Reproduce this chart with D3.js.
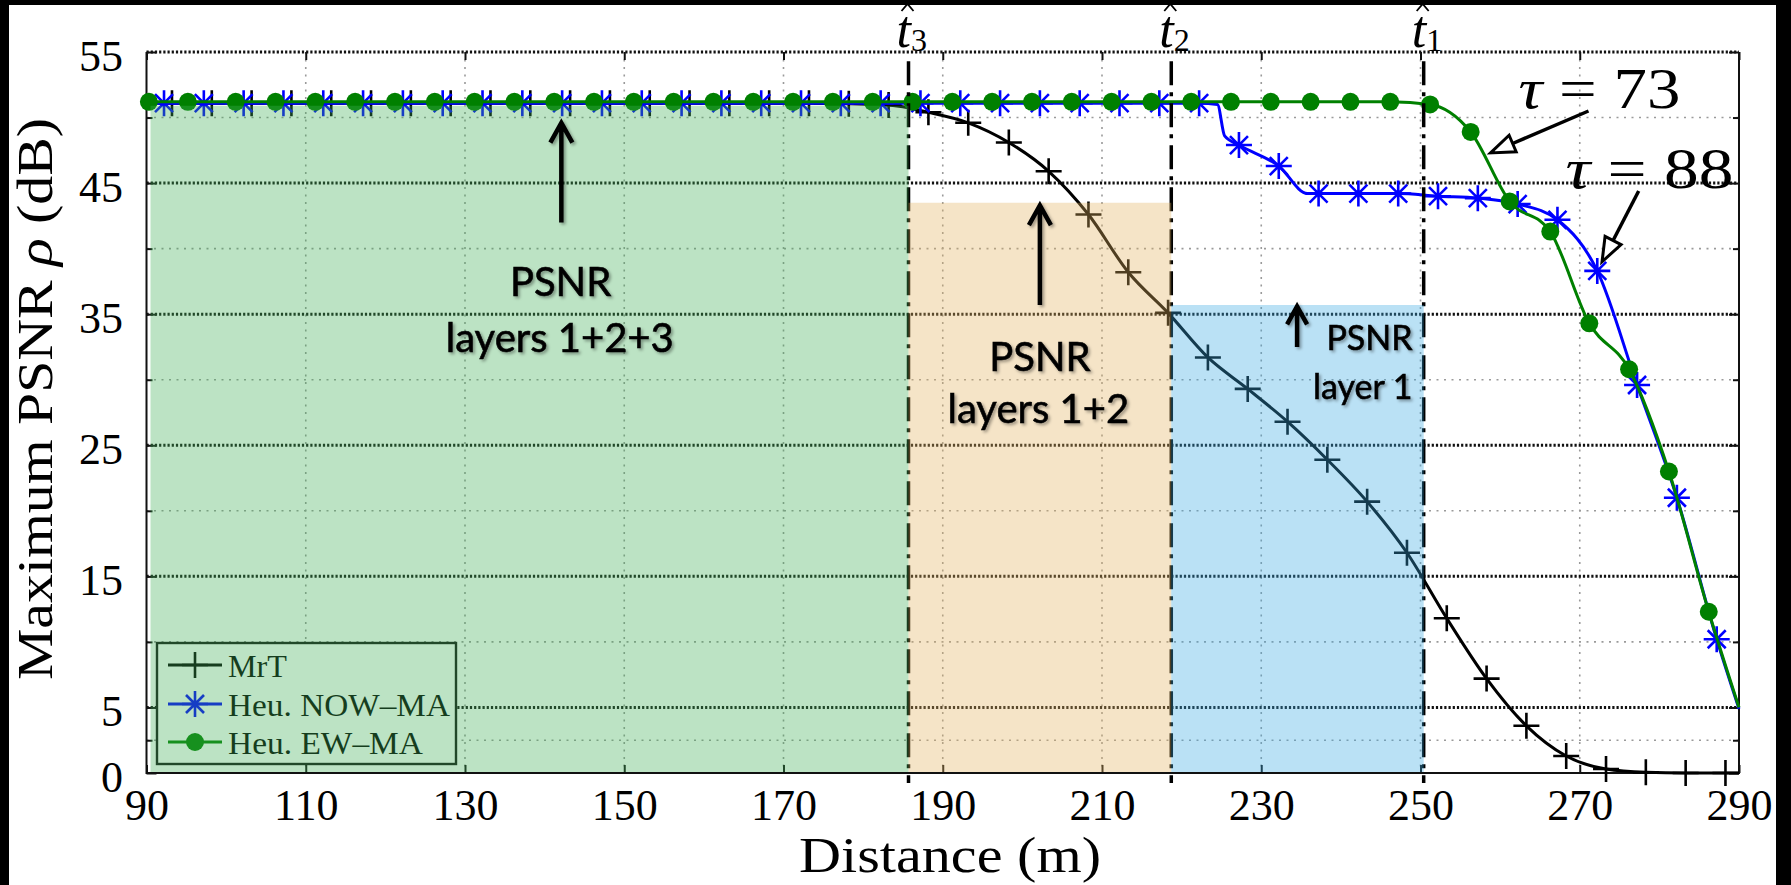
<!DOCTYPE html>
<html>
<head>
<meta charset="utf-8">
<script src="https://cdn.jsdelivr.net/npm/d3@7"></script>
<style>
  body { margin: 0; background: #fff; }
  svg { display: block; }
  .tick text { font-family: 'Liberation Serif', serif; font-size: 44px; fill: #000; }
  .serif { font-family: 'Liberation Serif', serif; fill: #000; }
  .callout { font-family: Lato, 'Open Sans', sans-serif; fill: #000; stroke: #000; stroke-width: 0.6; }
</style>
</head>
<body>
<svg id="chart"></svg>
<script>
// axis ticks and grid rows
const xTicks = [90, 110, 130, 150, 170, 190, 210, 230, 250, 270, 290];
const yTicks = [0, 5, 15, 25, 35, 45, 55];
const yDarkGrid = [5, 15, 25, 35, 45, 55];
const yLightGrid = [2.5, 10, 20, 30, 40, 50];

// layer thresholds t3, t2, t1 and the shaded PSNR boxes
const layerNames = ['3', '2', '1'];
const layerDist = [185.7, 218.7, 250.4];
const boxFrom = [90, 185.7, 218.7];
const boxTo = [185.7, 218.7, 250.4];
const boxPsnr = [50.9, 43.5, 35.7];

const seriesNames = ['MrT', 'Heu. NOW\u2013MA', 'Heu. EW\u2013MA'];

// MrT (markers + line ends)
const mrtDist = [93.2, 98.2, 103.2, 108.2, 113.2, 118.2, 123.2, 128.2, 133.2, 138.2,
  143.2, 148.2, 153.2, 158.2, 163.2, 168.2, 173.2, 178.2, 183.2, 188.2,
  193.2, 198.3, 203.3, 208.3, 213.3, 218.3, 223.3, 228.3, 233.3, 238.3,
  243.3, 248.3, 253.3, 258.3, 263.3, 268.3, 273.3, 278.3, 283.3, 288.3];
const mrtPsnr = [51.1, 51.1, 51.1, 51.1, 51.1, 51.1, 51.1, 51.1, 51.1, 51.1,
  51.1, 51.1, 51.1, 51.1, 51.1, 51.1, 51.1, 51.05, 50.95, 50.4,
  49.6, 48.1, 45.9, 42.6, 38.2, 35.1, 31.7, 29.3, 26.8, 23.9,
  20.7, 16.8, 11.8, 7.2, 3.6, 1.3, 0.3, 0.05, 0, 0];
const mrtBendDist = [90, 290];
const mrtBendPsnr = [51.1, 0];

// Heu. NOW-MA
const nowDist = [92.2, 97.2, 102.2, 107.2, 112.2, 117.2, 122.2, 127.2, 132.2, 137.2,
  142.2, 147.2, 152.2, 157.2, 162.2, 167.2, 172.2, 177.2, 182.2, 187.2,
  192.2, 197.2, 202.2, 207.2, 212.2, 217.2, 222.2, 227.2, 232.2, 237.2,
  242.2, 247.2, 252.2, 257.2, 262.2, 267.2, 272.2, 277.2, 282.2, 287.2];
const nowPsnr = [51.1, 51.1, 51.1, 51.1, 51.1, 51.1, 51.1, 51.1, 51.1, 51.1,
  51.1, 51.1, 51.1, 51.1, 51.1, 51.1, 51.1, 51.1, 51.1, 51.1,
  51.1, 51.1, 51.1, 51.1, 51.1, 51.1, 51.1, 47.9, 46.3, 44.2,
  44.2, 44.2, 44.0, 43.85, 43.4, 42.2, 38.3, 29.6, 21.0, 10.2];
const nowBendDist = [90, 224.5, 225.4, 235.8, 290];
const nowBendPsnr = [51.1, 51.0, 48.6, 44.2, 4.9];

// Heu. EW-MA
const ewDist = [90.3, 95.2, 101.2, 106.2, 111.2, 116.2, 121.2, 126.2, 131.2, 136.2,
  141.2, 146.2, 151.2, 156.2, 161.2, 166.2, 171.2, 176.2, 181.2, 186.2,
  191.2, 196.2, 201.2, 206.2, 211.2, 216.2, 221.2, 226.2, 231.2, 236.2,
  241.2, 246.2, 251.2, 256.3, 261.2, 266.3, 271.2, 276.2, 281.2, 286.2];
const ewPsnr = [51.2, 51.2, 51.2, 51.2, 51.2, 51.2, 51.2, 51.2, 51.2, 51.2,
  51.2, 51.2, 51.2, 51.2, 51.2, 51.2, 51.2, 51.2, 51.2, 51.2,
  51.2, 51.2, 51.2, 51.2, 51.2, 51.2, 51.2, 51.2, 51.2, 51.2,
  51.2, 51.2, 51.0, 48.9, 43.6, 41.3, 34.3, 30.8, 23.0, 12.3];
const ewBendDist = [90, 290];
const ewBendPsnr = [51.2, 5.0];

class PsnrChart {

    constructor(_config, _data) {
        this.config = {
            parentElement: _config.parentElement,
            containerWidth: _config.containerWidth || 1791,
            containerHeight: _config.containerHeight || 885,
            margin: { top: 52, bottom: 112, right: 52, left: 146.5 }
        };
        this.data = _data;
        this.initVis();
    }

    initVis() {
        let vis = this;
        const m = vis.config.margin;

        vis.width = vis.config.containerWidth - m.left - m.right;
        vis.height = vis.config.containerHeight - m.top - m.bottom;

        vis.svg = d3.select(vis.config.parentElement)
            .attr('width', vis.config.containerWidth)
            .attr('height', vis.config.containerHeight);

        vis.svg.append('rect')
            .attr('width', vis.config.containerWidth)
            .attr('height', vis.config.containerHeight)
            .attr('fill', '#fff');

        const defs = vis.svg.append('defs');
        defs.append('filter').attr('id', 'shadow')
            .attr('x', '-10%').attr('y', '-20%').attr('width', '130%').attr('height', '150%')
            .append('feDropShadow')
                .attr('dx', 2).attr('dy', 2).attr('stdDeviation', 1.6)
                .attr('flood-color', '#000').attr('flood-opacity', 0.35);

        vis.chart = vis.svg.append('g')
            .attr('transform', `translate(${m.left}, ${m.top})`);

        vis.xScale = d3.scaleLinear().domain([90, 290]).range([0, vis.width]);
        vis.yScale = d3.scaleLinear().domain([0, 55]).range([vis.height, 0]);

        // grid
        vis.chart.append('g').selectAll('line')
            .data(xTicks.slice(1, -1))
            .join('line')
                .attr('x1', d => vis.xScale(d)).attr('x2', d => vis.xScale(d))
                .attr('y1', 0).attr('y2', vis.height)
                .attr('stroke', '#9a9a9a').attr('stroke-width', 1.6)
                .attr('stroke-dasharray', '2,5.5');

        vis.chart.append('g').selectAll('line')
            .data(yLightGrid)
            .join('line')
                .attr('x1', 0).attr('x2', vis.width)
                .attr('y1', d => vis.yScale(d)).attr('y2', d => vis.yScale(d))
                .attr('stroke', '#9a9a9a').attr('stroke-width', 1.6)
                .attr('stroke-dasharray', '2,5.5');

        vis.chart.append('g').selectAll('line')
            .data(yDarkGrid)
            .join('line')
                .attr('x1', 0).attr('x2', vis.width)
                .attr('y1', d => vis.yScale(d)).attr('y2', d => vis.yScale(d))
                .attr('stroke', '#111').attr('stroke-width', 3)
                .attr('stroke-dasharray', '2.2,2');

        // frame (top edge is the dotted 55 line)
        vis.chart.append('path')
            .attr('d', `M0,0V${vis.height}H${vis.width}V0`)
            .attr('fill', 'none').attr('stroke', '#111').attr('stroke-width', 2);

        // axes
        vis.xAxis = d3.axisBottom(vis.xScale).tickValues(xTicks)
            .tickSizeInner(-8).tickSizeOuter(0).tickPadding(16);
        vis.yAxis = d3.axisLeft(vis.yScale).tickValues(yTicks)
            .tickSizeInner(-10).tickSizeOuter(0).tickPadding(23.5);

        vis.xAxisGroup = vis.chart.append('g')
            .attr('transform', `translate(0,${vis.height})`)
            .call(vis.xAxis);
        vis.yAxisGroup = vis.chart.append('g').call(vis.yAxis);

        vis.chart.append('g')
            .call(d3.axisTop(vis.xScale).tickValues(xTicks).tickSizeInner(-8).tickSizeOuter(0).tickFormat(''));
        vis.chart.append('g')
            .attr('transform', `translate(${vis.width},0)`)
            .call(d3.axisRight(vis.yScale).tickValues(yTicks).tickSizeInner(-10).tickSizeOuter(0).tickFormat(''));
        vis.chart.append('g')
            .call(d3.axisLeft(vis.yScale).tickValues(yLightGrid).tickSizeInner(-6).tickSizeOuter(0).tickFormat(''));
        vis.chart.append('g')
            .attr('transform', `translate(${vis.width},0)`)
            .call(d3.axisRight(vis.yScale).tickValues(yLightGrid).tickSizeInner(-6).tickSizeOuter(0).tickFormat(''));

        vis.chart.selectAll('.domain').remove();
        vis.chart.selectAll('.tick line').attr('stroke', '#111').attr('stroke-width', 2);
        vis.yAxisGroup.selectAll('text').attr('dy', '0.42em');

        // axis titles
        vis.svg.append('text')
            .attr('class', 'serif')
            .attr('x', 950).attr('y', 872)
            .attr('text-anchor', 'middle')
            .attr('font-size', 50)
            .attr('textLength', 302).attr('lengthAdjust', 'spacingAndGlyphs')
            .text('Distance (m)');

        const yTitle = vis.svg.append('text')
            .attr('class', 'serif')
            .attr('text-anchor', 'middle')
            .attr('font-size', 50)
            .attr('transform', 'translate(52, 399) rotate(-90)')
            .attr('textLength', 562).attr('lengthAdjust', 'spacingAndGlyphs');
        yTitle.append('tspan').text('Maximum PSNR ');
        yTitle.append('tspan').attr('font-style', 'italic').text('\u03c1');
        yTitle.append('tspan').text(' (dB)');
    }

    renderVis() {
        let vis = this;
        const x = vis.xScale, y = vis.yScale;

        const line = d3.line()
            .x(d => x(d[0]))
            .y(d => y(d[1]))
            .curve(d3.curveMonotoneX);

        const markerPath = {
            plus: 'M-13,0H13M0,-13V13',
            star: 'M-13,0H13M0,-13V13M-9,-9L9,9M-9,9L9,-9'
        };

        const drawMarker = (sel, s) => {
            if (s.marker === 'dot') {
                sel.append('circle').attr('r', 9).attr('fill', s.color);
            } else {
                sel.append('path').attr('d', markerPath[s.marker])
                    .attr('fill', 'none').attr('stroke', s.color).attr('stroke-width', 2.6);
            }
        };

        vis.data.forEach(s => {
            const pts = d3.sort(
                s.dist.map((d, i) => [d, s.psnr[i]])
                    .concat(s.bendDist.map((d, i) => [d, s.bendPsnr[i]])),
                d => d[0]);

            vis.chart.append('path')
                .attr('d', line(pts))
                .attr('fill', 'none')
                .attr('stroke', s.color)
                .attr('stroke-width', 3);

            vis.chart.append('g').selectAll('g')
                .data(s.dist.map((d, i) => [d, s.psnr[i]]))
                .join('g')
                    .attr('transform', d => `translate(${x(d[0])},${y(d[1])})`)
                    .each(function() { drawMarker(d3.select(this), s); });
        });

        // legend
        const legend = vis.chart.append('g')
            .attr('transform', `translate(10.5, ${vis.height - 130})`);
        legend.append('rect')
            .attr('width', 299).attr('height', 121)
            .attr('fill', '#fff').attr('stroke', '#111').attr('stroke-width', 2.4);
        const rowY = [22, 61, 99];
        const labelLen = [59, 222, 195];
        vis.data.forEach((s, i) => {
            const row = legend.append('g').attr('transform', `translate(0,${rowY[i]})`);
            row.append('line').attr('x1', 11).attr('x2', 65)
                .attr('stroke', s.color).attr('stroke-width', 3);
            drawMarker(row.append('g').attr('transform', 'translate(38,0)'), s);
            row.append('text')
                .attr('class', 'serif')
                .attr('x', 71).attr('y', 12)
                .attr('font-size', 32)
                .attr('textLength', labelLen[i]).attr('lengthAdjust', 'spacingAndGlyphs')
                .text(seriesNames[i]);
        });

        // dash-dot threshold lines
        vis.chart.append('g').selectAll('line')
            .data(layerDist)
            .join('line')
                .attr('x1', d => x(d)).attr('x2', d => x(d))
                .attr('y1', y(54.3)).attr('y2', vis.height + 10)
                .attr('stroke', '#000').attr('stroke-width', 3.5)
                .attr('stroke-dasharray', '24,7,4,7');

        // translucent boxes laid over the plot
        const boxColors = ['#40af56', '#e2b25f', '#3aa9e2'];
        vis.chart.append('g').selectAll('rect')
            .data(boxTo)
            .join('rect')
                .attr('x', (d, i) => x(boxFrom[i]) + (i === 0 ? 4 : 0))
                .attr('width', (d, i) => x(d) - x(boxFrom[i]) - (i === 0 ? 4 : 0))
                .attr('y', (d, i) => y(boxPsnr[i]))
                .attr('height', (d, i) => y(0) - 1 - y(boxPsnr[i]))
                .attr('fill', (d, i) => boxColors[i])
                .attr('fill-opacity', 0.35);

        // threshold labels t-hat
        layerDist.forEach((d, i) => {
            const cx = x(d);
            const base = -5;
            const t = vis.chart.append('text')
                .attr('class', 'serif')
                .attr('x', cx - 12).attr('y', base)
                .attr('font-size', 52);
            t.append('tspan').attr('font-style', 'italic').text('t');
            t.append('tspan').attr('font-size', 32).attr('dy', 4).text(layerNames[i]);
            vis.chart.append('path')
                .attr('d', `M${cx - 7},${base - 36}L${cx - 1},${base - 43}L${cx + 5},${base - 36}`)
                .attr('fill', 'none').attr('stroke', '#000').attr('stroke-width', 1.8);
        });

        // callouts
        const notes = vis.chart.append('g').attr('filter', 'url(#shadow)');
        const upArrow = (d, tip, tail, head) => {
            const ax = x(d), ty = y(tip);
            notes.append('path')
                .attr('d', `M${ax},${y(tail)}V${ty + 2}M${ax - head},${ty + head * 1.8}L${ax},${ty}L${ax + head},${ty + head * 1.8}`)
                .attr('fill', 'none').attr('stroke', '#000').attr('stroke-width', 4.5)
                .attr('stroke-linejoin', 'miter');
        };
        const label = (d, v, txt, size, anchor) => {
            notes.append('text')
                .attr('class', 'callout')
                .attr('x', x(d)).attr('y', y(v))
                .attr('font-size', size)
                .attr('text-anchor', anchor)
                .text(txt);
        };

        upArrow(142.1, 49.6, 42.0, 11);
        label(142.0, 36.4, 'PSNR', 40, 'middle');
        label(141.9, 32.1, 'layers 1+2+3', 40, 'middle');

        upArrow(202.2, 43.3, 35.7, 11);
        label(202.2, 30.7, 'PSNR', 40, 'middle');
        label(202.0, 26.7, 'layers 1+2', 40, 'middle');

        upArrow(234.5, 35.6, 32.5, 10);
        label(249.0, 32.3, 'PSNR', 34, 'end');
        label(249.0, 28.5, 'layer 1', 34, 'end');

        // tau annotations with open triangle heads
        const tauArrow = (x1, y1, x2, y2) => {
            const sx = x(x1), sy = y(y1), tx = x(x2), ty = y(y2);
            const len = Math.hypot(tx - sx, ty - sy);
            const ux = (tx - sx) / len, uy = (ty - sy) / len;
            const bx = tx - ux * 24, by = ty - uy * 24;
            vis.chart.append('line')
                .attr('x1', sx).attr('y1', sy).attr('x2', bx).attr('y2', by)
                .attr('stroke', '#000').attr('stroke-width', 3.5);
            vis.chart.append('path')
                .attr('d', `M${tx},${ty}L${bx - uy * 9},${by + ux * 9}L${bx + uy * 9},${by - ux * 9}Z`)
                .attr('fill', '#fff').attr('stroke', '#000').attr('stroke-width', 3);
        };
        const tauLabel = (d, v, val, len) => {
            const t = vis.chart.append('text')
                .attr('class', 'serif')
                .attr('x', x(d)).attr('y', y(v))
                .attr('font-size', 56)
                .attr('textLength', len).attr('lengthAdjust', 'spacingAndGlyphs');
            t.append('tspan').attr('font-style', 'italic').text('\u03c4');
            t.append('tspan').text(' = ' + val);
        };

        tauLabel(262.3, 50.7, '73', 162);
        tauArrow(271.1, 50.5, 258.8, 47.3);
        tauLabel(268.2, 44.6, '88', 168);
        tauArrow(277.4, 44.4, 272.8, 39.0);
    }
}

const chartData = [
    { name: seriesNames[0], dist: mrtDist, psnr: mrtPsnr, bendDist: mrtBendDist, bendPsnr: mrtBendPsnr, color: '#000000', marker: 'plus' },
    { name: seriesNames[1], dist: nowDist, psnr: nowPsnr, bendDist: nowBendDist, bendPsnr: nowBendPsnr, color: '#0000ff', marker: 'star' },
    { name: seriesNames[2], dist: ewDist, psnr: ewPsnr, bendDist: ewBendDist, bendPsnr: ewBendPsnr, color: '#008000', marker: 'dot' }
];

const chart = new PsnrChart({ parentElement: '#chart' }, chartData);
chart.renderVis();

// black edges of the original screenshot
chart.svg.append('rect').attr('x', 0).attr('y', 0).attr('width', 9).attr('height', 885).attr('fill', '#000');
chart.svg.append('rect').attr('x', 0).attr('y', 0).attr('width', 1791).attr('height', 5).attr('fill', '#000');
chart.svg.append('rect').attr('x', 1776).attr('y', 0).attr('width', 15).attr('height', 885).attr('fill', '#000');
</script>
</body>
</html>
